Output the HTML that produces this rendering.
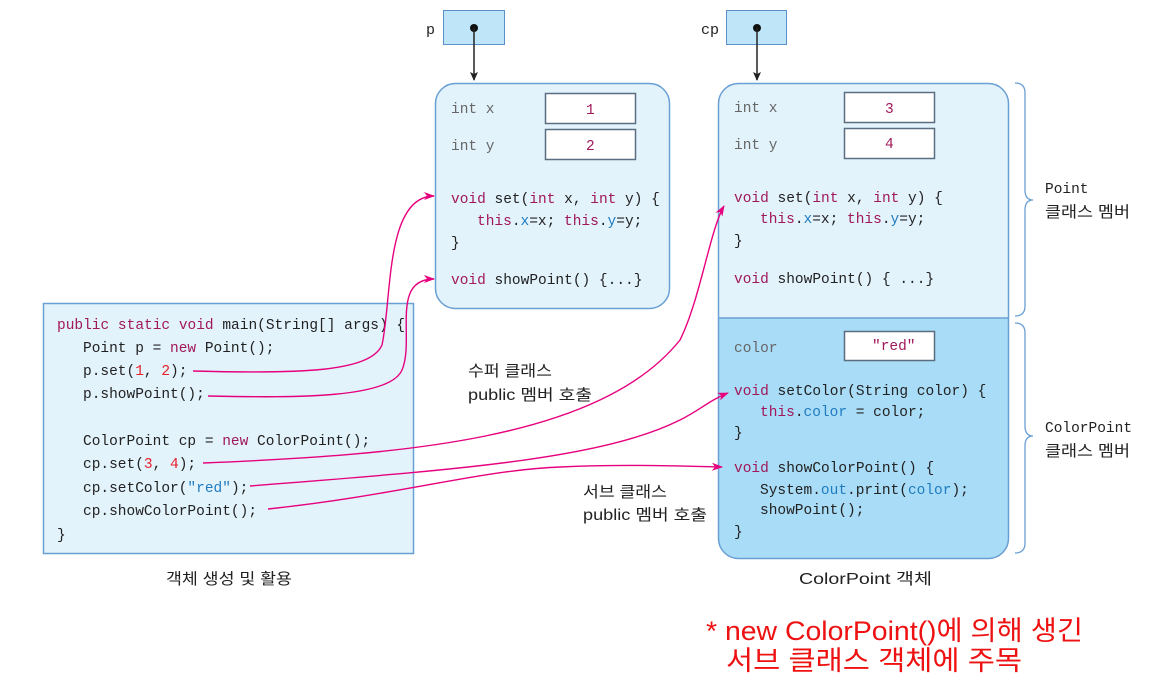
<!DOCTYPE html>
<html><head><meta charset="utf-8"><style>
html,body{margin:0;padding:0;background:#fff;}
svg{display:block;}
.m{font-family:"Liberation Mono",monospace;font-size:14.5px;fill:#222;white-space:pre;}
.k{fill:#a0185a}.b{fill:#1f7cc0}.g{fill:#666}.r{fill:#e8202a}
.s{font-family:"Liberation Sans","Noto Sans CJK KR",sans-serif;font-size:15.5px;fill:#222;}
</style></head><body>
<svg width="1160" height="699" viewBox="0 0 1160 699" xmlns="http://www.w3.org/2000/svg">
<defs>
<marker id="ab" markerWidth="10" markerHeight="10" refX="8" refY="5" orient="auto" markerUnits="userSpaceOnUse"><path d="M0,1 L9,5 L0,9 L2,5z" fill="#222"/></marker>
<marker id="am" markerWidth="12" markerHeight="10" refX="10" refY="5" orient="auto" markerUnits="userSpaceOnUse"><path d="M0,1 L11,5 L0,9 L3,5z" fill="#e6007e"/></marker>
</defs>
<text x="426" y="34" class="m" style="font-size:15px">p</text>
<rect x="443.5" y="10.5" width="61" height="34" fill="#bfe5f8" stroke="#5b8fc7"/>
<circle cx="474" cy="28" r="4" fill="#111"/>
<line x1="474" y1="28" x2="474" y2="80" stroke="#222" stroke-width="1.5" marker-end="url(#ab)"/>
<text x="701" y="34" class="m" style="font-size:15px">cp</text>
<rect x="726.5" y="10.5" width="60" height="34" fill="#bfe5f8" stroke="#5b8fc7"/>
<circle cx="757" cy="28" r="4" fill="#111"/>
<line x1="757" y1="28" x2="757" y2="80" stroke="#222" stroke-width="1.5" marker-end="url(#ab)"/>
<rect x="435.5" y="83.5" width="234" height="225" rx="20" fill="#e3f3fc" stroke="#6a9fd4" stroke-width="1.5"/>
<rect x="545.5" y="93.5" width="90" height="30" fill="#fff" stroke="#5a6e80" stroke-width="1.5"/>
<rect x="545.5" y="129.5" width="90" height="30" fill="#fff" stroke="#5a6e80" stroke-width="1.5"/>
<text x="451" y="113" class="m g">int x</text>
<text x="451" y="150" class="m g">int y</text>
<text x="586" y="114" class="m k">1</text>
<text x="586" y="150" class="m k">2</text>
<text x="451" y="203" class="m"><tspan class="k">void</tspan> set(<tspan class="k">int</tspan> x, <tspan class="k">int</tspan> y) {</text>
<text x="477" y="225" class="m"><tspan class="k">this</tspan>.<tspan class="b">x</tspan>=x; <tspan class="k">this</tspan>.<tspan class="b">y</tspan>=y;</text>
<text x="451" y="247" class="m">}</text>
<text x="451" y="284" class="m"><tspan class="k">void</tspan> showPoint() {...}</text>
<path d="M718.5,318 V103.5 a20,20 0 0 1 20,-20 H988.5 a20,20 0 0 1 20,20 V318z" fill="#e3f3fc"/>
<path d="M718.5,318 V538 a20,20 0 0 0 20,20 H988.5 a20,20 0 0 0 20,-20 V318z" fill="#a9dcf6"/>
<rect x="718.5" y="83.5" width="290" height="475" rx="20" fill="none" stroke="#6a9fd4" stroke-width="1.5"/>
<line x1="718.5" y1="318" x2="1008.5" y2="318" stroke="#6a9fd4" stroke-width="1.5"/>
<rect x="844.5" y="92.5" width="90" height="30" fill="#fff" stroke="#5a6e80" stroke-width="1.5"/>
<rect x="844.5" y="128.5" width="90" height="30" fill="#fff" stroke="#5a6e80" stroke-width="1.5"/>
<rect x="844.5" y="331.5" width="90" height="29" fill="#fff" stroke="#5a6e80" stroke-width="1.5"/>
<text x="734" y="112" class="m g">int x</text>
<text x="734" y="149" class="m g">int y</text>
<text x="885" y="113" class="m k">3</text>
<text x="885" y="148" class="m k">4</text>
<text x="734" y="202" class="m"><tspan class="k">void</tspan> set(<tspan class="k">int</tspan> x, <tspan class="k">int</tspan> y) {</text>
<text x="760" y="223" class="m"><tspan class="k">this</tspan>.<tspan class="b">x</tspan>=x; <tspan class="k">this</tspan>.<tspan class="b">y</tspan>=y;</text>
<text x="734" y="245" class="m">}</text>
<text x="734" y="283" class="m"><tspan class="k">void</tspan> showPoint() { ...}</text>
<text x="734" y="352" class="m g">color</text>
<text x="872" y="350" class="m k">"red"</text>
<text x="734" y="395" class="m"><tspan class="k">void</tspan> setColor(String color) {</text>
<text x="760" y="416" class="m"><tspan class="k">this</tspan>.<tspan class="b">color</tspan> = color;</text>
<text x="734" y="437" class="m">}</text>
<text x="734" y="472" class="m"><tspan class="k">void</tspan> showColorPoint() {</text>
<text x="760" y="494" class="m">System.<tspan class="b">out</tspan>.print(<tspan class="b">color</tspan>);</text>
<text x="760" y="514" class="m">showPoint();</text>
<text x="734" y="536" class="m">}</text>
<text x="799" y="584" class="s" textLength="133" lengthAdjust="spacingAndGlyphs">ColorPoint 객체</text>
<path d="M1015,83 q10,0 10,10 V190 q0,10 8,10 q-8,0 -8,10 V306 q0,10 -10,10" fill="none" stroke="#6a9fd4" stroke-width="1.3"/>
<path d="M1015,323 q10,0 10,10 V426 q0,10 8,10 q-8,0 -8,10 V543 q0,10 -10,10" fill="none" stroke="#6a9fd4" stroke-width="1.3"/>
<text x="1045" y="193" class="m">Point</text>
<text x="1045" y="217" class="s" textLength="85" lengthAdjust="spacingAndGlyphs">클래스 멤버</text>
<text x="1045" y="432" class="m">ColorPoint</text>
<text x="1045" y="456" class="s" textLength="85" lengthAdjust="spacingAndGlyphs">클래스 멤버</text>
<rect x="43.5" y="303.5" width="370" height="250" fill="#e3f3fc" stroke="#6a9fd4" stroke-width="1.5"/>
<text x="57" y="329" class="m"><tspan class="k">public static void</tspan> main(String[] args) {</text>
<text x="83" y="352" class="m">Point p = <tspan class="k">new</tspan> Point();</text>
<text x="83" y="375" class="m">p.set(<tspan class="r">1</tspan>, <tspan class="r">2</tspan>);</text>
<text x="83" y="398" class="m">p.showPoint();</text>
<text x="83" y="445" class="m">ColorPoint cp = <tspan class="k">new</tspan> ColorPoint();</text>
<text x="83" y="468" class="m">cp.set(<tspan class="r">3</tspan>, <tspan class="r">4</tspan>);</text>
<text x="83" y="492" class="m">cp.setColor(<tspan class="b">"red"</tspan>);</text>
<text x="83" y="515" class="m">cp.showColorPoint();</text>
<text x="57" y="539" class="m">}</text>
<text x="166" y="584" class="s" textLength="126" lengthAdjust="spacingAndGlyphs">객체 생성 및 활용</text>
<text x="468" y="376" class="s" textLength="84" lengthAdjust="spacingAndGlyphs">수퍼 클래스</text>
<text x="468" y="400" class="s" textLength="124" lengthAdjust="spacingAndGlyphs">public 멤버 호출</text>
<text x="583" y="497" class="s" textLength="84" lengthAdjust="spacingAndGlyphs">서브 클래스</text>
<text x="583" y="520" class="s" textLength="124" lengthAdjust="spacingAndGlyphs">public 멤버 호출</text>
<g fill="none" stroke="#e6007e" stroke-width="1.4">
<path d="M193,371 C300,374 370,372 382,345 C392,300 385,196 434,196" marker-end="url(#am)"/>
<path d="M208,396 C300,398 390,398 402,370 C415,340 390,279 434,279" marker-end="url(#am)"/>
<path d="M203,463 C400,455 600,440 680,340 C700,300 710,230 724,206" marker-end="url(#am)"/>
<path d="M250,486 C450,470 600,460 680,420 C700,410 710,400 728,393" marker-end="url(#am)"/>
<path d="M268,509 C400,495 480,470 560,467 C620,464 680,466 722,467" marker-end="url(#am)"/>
</g>
<text x="706" y="640" textLength="377" lengthAdjust="spacingAndGlyphs" style="font-family:'Liberation Sans','Noto Sans CJK KR',sans-serif;font-size:27px;fill:#ee1111">* new ColorPoint()에 의해 생긴</text>
<text x="726" y="670" textLength="296" lengthAdjust="spacingAndGlyphs" style="font-family:'Liberation Sans','Noto Sans CJK KR',sans-serif;font-size:27px;fill:#ee1111">서브 클래스 객체에 주목</text>
</svg>
</body></html>
